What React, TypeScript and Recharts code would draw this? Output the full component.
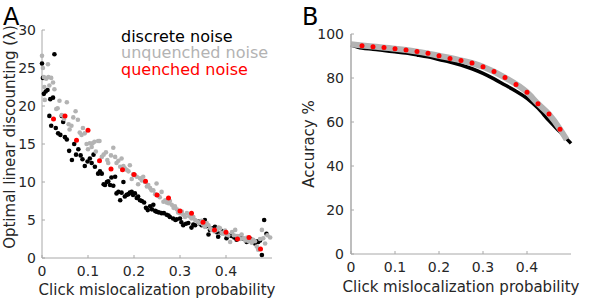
import { ScatterChart, Scatter, ComposedChart, Line, XAxis, YAxis, Label } from 'recharts';

const FONT = 'DejaVu Sans';
const AXIS = '#a8a8a8';
const TICK = '#262626';
const GREY = '#b3b3b3';
const RED = '#ff0000';

// panel A - optimal linear discounting vs click mislocalization
const discreteX = [
  0, 0.002, 0.004, 0.008, 0.012, 0.016, 0.018, 0.02, 0.024, 0.027, 0.03, 0.035, 0.04, 0.043, 0.046, 0.05,
  0.054, 0.059, 0.065, 0.07, 0.074, 0.079, 0.084, 0.088, 0.093, 0.099, 0.104, 0.108, 0.112, 0.115, 0.122,
  0.126, 0.13, 0.134, 0.137, 0.141, 0.144, 0.148, 0.151, 0.155, 0.159, 0.162, 0.166, 0.17, 0.173, 0.177,
  0.18, 0.184, 0.188, 0.191, 0.195, 0.198, 0.202, 0.206, 0.209, 0.213, 0.217, 0.222, 0.226, 0.23, 0.235,
  0.239, 0.242, 0.246, 0.249, 0.254, 0.26, 0.265, 0.271, 0.275, 0.278, 0.285, 0.29, 0.293, 0.3, 0.303,
  0.307, 0.313, 0.318, 0.325, 0.329, 0.333, 0.34, 0.344, 0.347, 0.354, 0.358, 0.362, 0.365, 0.37, 0.376,
  0.38, 0.383, 0.39, 0.394, 0.401, 0.406, 0.412, 0.418, 0.423, 0.429, 0.434, 0.44, 0.445, 0.451, 0.456,
  0.463, 0.467, 0.47, 0.474, 0.478, 0.483, 0.488,
];
const discreteY = [
  25.6, 23.7, 21.6, 21.9, 22.1, 18.7, 20.9, 17.4, 21.1, 26.8, 17.1, 16.4, 16.2, 18.7, 17.9, 15.9,
  15.6, 14.1, 12.9, 15.0, 13.6, 14.3, 13.5, 13.0, 12.1, 12.7, 13.1, 12.5, 13.6, 12.0, 11.1,
  11.4, 11.1, 9.7, 9.6, 10.0, 10.1, 9.6, 10.6, 9.5, 10.7, 8.5, 8.7, 7.6, 8.6, 10.0,
  8.1, 8.3, 8.4, 8.6, 8.7, 8.3, 8.5, 7.9, 8.1, 7.6, 7.5, 7.3, 6.6, 6.3, 6.8,
  6.4, 7.0, 6.2, 6.1, 6.0, 5.9, 5.9, 5.7, 5.6, 5.4, 5.2, 5.0, 5.1, 5.2, 4.7,
  4.3, 4.5, 4.6, 4.0, 4.4, 4.3, 4.8, 4.5, 4.3, 5.0, 4.2, 3.1, 3.7, 3.9, 4.1,
  3.4, 2.8, 3.3, 3.5, 2.6, 3.0, 2.9, 2.7, 2.4, 2.8, 2.6, 2.5, 2.1, 2.6, 2.4,
  1.9, 2.2, 2.1, 2.3, 0.4, 5.0, 3.2,
];

const unquenchedX = [
  0, 0.002, 0.004, 0.005, 0.006, 0.009, 0.013, 0.014, 0.016, 0.02, 0.024, 0.027, 0.031, 0.034, 0.038,
  0.043, 0.048, 0.054, 0.058, 0.06, 0.064, 0.068, 0.073, 0.078, 0.082, 0.086, 0.089, 0.093, 0.097, 0.1,
  0.104, 0.108, 0.11, 0.114, 0.117, 0.122, 0.125, 0.13, 0.134, 0.139, 0.142, 0.144, 0.15, 0.155, 0.159,
  0.162, 0.166, 0.17, 0.173, 0.177, 0.18, 0.184, 0.188, 0.191, 0.195, 0.198, 0.202, 0.206, 0.209, 0.213,
  0.217, 0.22, 0.224, 0.228, 0.231, 0.235, 0.238, 0.242, 0.246, 0.249, 0.253, 0.256, 0.26, 0.264, 0.268,
  0.271, 0.275, 0.278, 0.282, 0.286, 0.289, 0.293, 0.296, 0.3, 0.304, 0.307, 0.311, 0.315, 0.32, 0.325,
  0.329, 0.333, 0.338, 0.343, 0.347, 0.35, 0.354, 0.358, 0.362, 0.366, 0.369, 0.375, 0.38, 0.384, 0.387,
  0.391, 0.394, 0.398, 0.402, 0.405, 0.409, 0.413, 0.417, 0.42, 0.424, 0.427, 0.431, 0.434, 0.438, 0.442,
  0.446, 0.449, 0.452, 0.456, 0.459, 0.463, 0.467, 0.47, 0.474, 0.478, 0.481, 0.485, 0.49, 0.496,
];
const unquenchedY = [
  26.6, 25.0, 23.8, 22.5, 20.8, 23.6, 25.5, 23.8, 22.7, 23.7, 23.1, 22.2, 19.6, 19.7, 20.7,
  18.8, 18.3, 20.5, 17.6, 16.9, 17.4, 18.5, 19.3, 18.2, 16.5, 16.2, 17.1, 16.4, 15.0, 14.3,
  15.1, 14.6, 15.1, 15.3, 14.0, 15.4, 15.4, 13.3, 13.6, 13.9, 12.9, 12.5, 13.5, 14.5, 13.3,
  12.5, 12.8, 12.0, 13.1, 12.1, 11.8, 11.6, 11.4, 12.2, 10.4, 11.0, 10.9, 10.7, 9.7, 10.5,
  10.2, 10.7, 10.0, 9.4, 9.6, 9.2, 8.9, 8.9, 8.4, 9.8, 8.2, 8.0, 8.7, 7.4, 7.6,
  7.3, 7.2, 7.5, 7.0, 6.6, 6.8, 6.4, 6.0, 5.9, 6.1, 5.7, 5.4, 5.9, 5.5, 5.2,
  5.4, 5.0, 4.8, 4.6, 4.9, 4.4, 4.1, 4.6, 4.3, 3.9, 3.7, 3.5, 3.7, 4.0, 3.9,
  3.3, 3.2, 3.6, 3.1, 3.0, 2.1, 3.4, 3.0, 3.7, 2.9, 2.8, 2.5, 3.1, 2.6, 2.3,
  2.7, 2.2, 2.4, 2.0, 2.4, 2.2, 1.5, 1.1, 2.5, 3.7, 2.6, 1.9, 3.0, 2.7,
];

const quenchedX = [
  0.025, 0.05, 0.075, 0.1, 0.125, 0.15, 0.175, 0.2, 0.225, 0.25, 0.275, 0.3, 0.325, 0.35, 0.375, 0.4,
  0.425, 0.45, 0.475,
];
const quenchedY = [
  18.3, 18.7, 15.5, 16.8, 12.8, 11.7, 11.6, 11.0, 10.1, 8.3, 7.9, 6.2, 5.9, 4.7, 3.7, 3.4, 2.5, 2.7, 1.2,
];

// panel B - accuracy
const accDiscreteX = [
  0, 0.025, 0.05, 0.075, 0.1, 0.125, 0.15, 0.175, 0.2, 0.225, 0.25, 0.275, 0.3, 0.325, 0.35, 0.375, 0.4,
  0.425, 0.45, 0.475, 0.5,
];
const accDiscreteY = [
  95.0, 93.6, 93.1, 92.5, 91.9, 91.3, 90.5, 89.6, 88.4, 87.3, 85.9, 84.2, 82.1, 79.6, 76.8, 74.0, 70.8,
  66.3, 60.6, 55.5, 50.3,
];
const accUnquenchedX = [0, 0.05, 0.1, 0.15, 0.2, 0.25, 0.3, 0.35, 0.4, 0.425, 0.45, 0.475, 0.49];
const accUnquenchedY = [95.3, 94.3, 93.3, 92.0, 90.1, 88.0, 85.1, 80.2, 73.5, 68.3, 63.5, 56.8, 52.0];
const accQuenchedX = quenchedX;
const accQuenchedY = [
  94.7, 94.2, 93.9, 93.3, 92.7, 92.0, 91.2, 90.1, 88.9, 88.0, 86.8, 85.1, 82.9, 80.2, 77.1, 73.5, 68.3,
  63.6, 56.7,
];

const xTicks = [0, 0.1, 0.2, 0.3, 0.4];

const zip = (xs: number[], ys: number[]) => xs.map((x, i) => ({ x, y: ys[i] }));

const dot = (color: string, r: number) => (p: any) => (
  <circle cx={p.cx} cy={p.cy} r={r} fill={color} />
);

const tickStyle = { fill: TICK, fontSize: 14, fontFamily: FONT };
const labelStyle = { fill: TICK, fontSize: 15, fontFamily: FONT };

// ticks point inwards like matlab, so tickSize is negative and the margin makes up for it
function PanelA() {
  return (
    <ScatterChart width={300} height={300} margin={{ top: 30, right: 28, bottom: 0, left: 6 }}>
      <XAxis
        type="number"
        dataKey="x"
        domain={[0, 0.5]}
        ticks={xTicks}
        height={42}
        tickSize={-3}
        tickMargin={11}
        tickLine={{ stroke: AXIS }}
        axisLine={{ stroke: AXIS }}
        tick={tickStyle}
      >
        <Label value="Click mislocalization probability" position="insideBottom" offset={5} style={labelStyle} />
      </XAxis>
      <YAxis
        type="number"
        dataKey="y"
        domain={[0, 30]}
        ticks={[0, 5, 10, 15, 20, 25, 30]}
        width={36}
        tickSize={-3}
        tickMargin={9}
        tickLine={{ stroke: AXIS }}
        axisLine={{ stroke: AXIS }}
        tick={tickStyle}
      >
        <Label
          value="Optimal linear discounting (λ)"
          position="center"
          angle={-90}
          dx={-14}
          dy={-7}
          style={labelStyle}
        />
      </YAxis>
      <Scatter data={zip(discreteX, discreteY)} shape={dot('#000000', 2.3)} isAnimationActive={false} />
      <Scatter data={zip(unquenchedX, unquenchedY)} shape={dot(GREY, 2.3)} isAnimationActive={false} />
      <Scatter data={zip(quenchedX, quenchedY)} shape={dot(RED, 2.5)} isAnimationActive={false} />
    </ScatterChart>
  );
}

function PanelB() {
  return (
    <ComposedChart width={300} height={300} margin={{ top: 34, right: 29, bottom: 0, left: 6 }}>
      <XAxis
        type="number"
        dataKey="x"
        domain={[0, 0.5]}
        ticks={xTicks}
        height={46}
        tickSize={-3}
        tickMargin={11}
        tickLine={{ stroke: AXIS }}
        axisLine={{ stroke: AXIS }}
        tick={tickStyle}
      >
        <Label value="Click mislocalization probability" position="insideBottom" offset={8} style={labelStyle} />
      </XAxis>
      <YAxis
        type="number"
        dataKey="y"
        domain={[0, 100]}
        ticks={[0, 20, 40, 60, 80, 100]}
        width={45}
        tickSize={-3}
        tickMargin={10}
        tickLine={{ stroke: AXIS }}
        axisLine={{ stroke: AXIS, strokeWidth: 1.5 }}
        tick={tickStyle}
      >
        <Label value="Accuracy %" position="center" angle={-90} dx={-20} style={labelStyle} />
      </YAxis>
      <Line
        data={zip(accDiscreteX, accDiscreteY)}
        dataKey="y"
        type="monotone"
        stroke="#000000"
        strokeWidth={3.5}
        dot={false}
        isAnimationActive={false}
      />
      <Line
        data={zip(accUnquenchedX, accUnquenchedY)}
        dataKey="y"
        type="monotone"
        stroke={GREY}
        strokeWidth={6}
        dot={false}
        isAnimationActive={false}
      />
      <Line
        data={zip(accQuenchedX, accQuenchedY)}
        dataKey="y"
        stroke="none"
        dot={{ r: 2.5, fill: RED, stroke: 'none' }}
        isAnimationActive={false}
      />
    </ComposedChart>
  );
}

export default function App() {
  return (
    <div style={{ position: 'absolute', left: 0, top: 0, width: 600, height: 300, background: '#fff' }}>
      <div style={{ position: 'absolute', left: 0, top: 0 }}>
        <PanelA />
      </div>
      <div style={{ position: 'absolute', left: 300, top: 0 }}>
        <PanelB />
      </div>
      <svg width={600} height={300} style={{ position: 'absolute', left: 0, top: 0, pointerEvents: 'none' }}>
        <g fontFamily={FONT}>
          <text x={3} y={25} fontSize={24} fill="#000">A</text>
          <text x={302} y={25} fontSize={24} fill="#000">B</text>
          <text x={121} y={41.5} fontSize={16} fill="#000">discrete noise</text>
          <text x={121} y={58} fontSize={16} fill={GREY}>unquenched noise</text>
          <text x={121} y={74.5} fontSize={16} fill={RED}>quenched noise</text>
        </g>
      </svg>
    </div>
  );
}
